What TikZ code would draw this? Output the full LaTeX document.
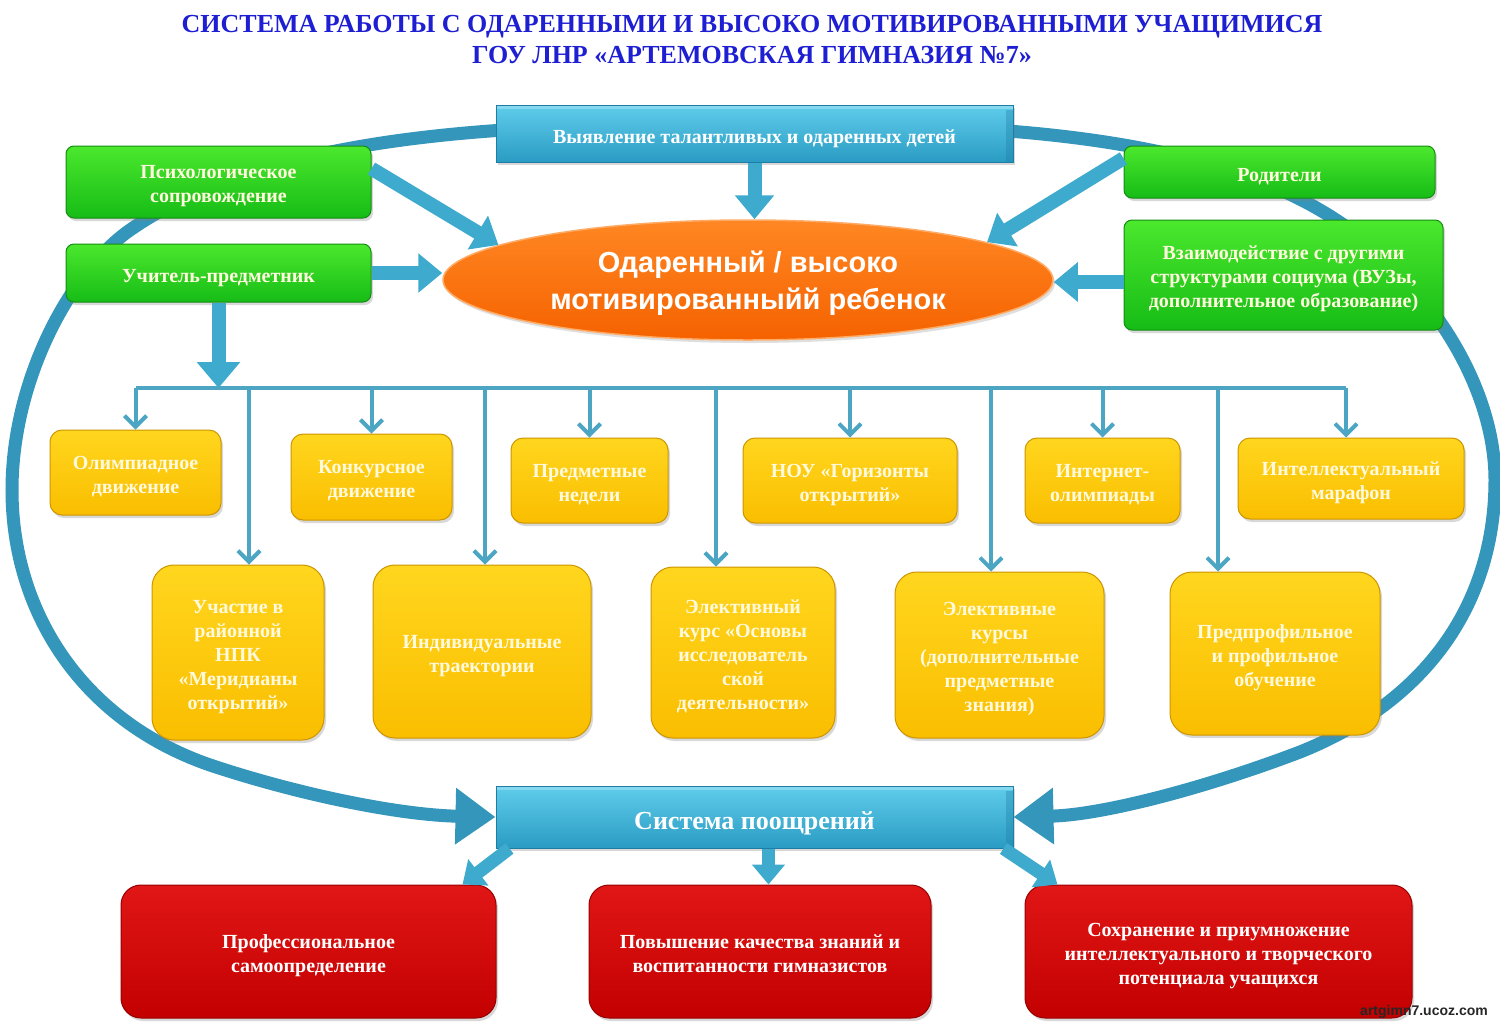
\documentclass[tikz,border=0pt]{standalone}
\usepackage{fontspec}
\setmainfont{Liberation Serif}
\newfontfamily\heavysans{Liberation Sans}
\usetikzlibrary{arrows.meta,shapes.geometric,shadows}
\pgfdeclarelayer{bg}
\pgfsetlayers{bg,main}
\newcommand\firstln[1][1.1]{\rule{0pt}{#1em}}
\definecolor{ringc}{RGB}{52,150,186}
\definecolor{fatc}{RGB}{62,170,205}
\definecolor{busc}{RGB}{75,165,195}
\definecolor{btop}{RGB}{95,205,235}
\definecolor{bbot}{RGB}{42,155,195}
\definecolor{bedge}{RGB}{30,125,165}
\definecolor{gtop}{RGB}{75,232,45}
\definecolor{gbot}{RGB}{22,188,22}
\definecolor{gedge}{RGB}{20,140,20}
\definecolor{ytop}{RGB}{255,214,30}
\definecolor{ybot}{RGB}{250,190,0}
\definecolor{yedge}{RGB}{205,150,0}
\definecolor{rtop}{RGB}{225,22,22}
\definecolor{rbot}{RGB}{195,0,0}
\definecolor{redge}{RGB}{150,0,0}
\definecolor{otop}{RGB}{255,135,35}
\definecolor{obot}{RGB}{245,98,0}
\definecolor{titleblue}{RGB}{30,30,210}
\definecolor{creamw}{RGB}{255,250,222}
\begin{document}
\begin{tikzpicture}[x=1pt,y=-1pt,
  pptstrut/.style={execute at begin node={\rule{0pt}{1.2em}},
    execute at end node={\rule[-0.216em]{0pt}{0.216em}}},
  box/.style={rectangle, align=center, inner sep=0pt, pptstrut,
    font=\bfseries\fontsize{20}{24}\selectfont, text=creamw,
    drop shadow={opacity=0.3,shadow xshift=2pt,shadow yshift=-3pt}},
  bluebox/.style={box, top color=btop, bottom color=bbot, draw=bedge, line width=1pt, text=white,
    path picture={\fill[bedge, opacity=0.35] ([xshift=-7pt,yshift=-5pt]path picture bounding box.north east)
      rectangle (path picture bounding box.south east);
      \fill[white, opacity=0.25] (path picture bounding box.north west)
      rectangle ([yshift=-4pt]path picture bounding box.north east);}},
  greenbox/.style={box, rounded corners=8pt, top color=gtop, bottom color=gbot, draw=gedge, line width=1pt},
  yelbox/.style={box, rounded corners=12pt, top color=ytop, bottom color=ybot, draw=yedge, line width=1pt},
  bigyel/.style={yelbox, rounded corners=22pt},
  redbox/.style={box, rounded corners=20pt, top color=rtop, bottom color=rbot, draw=redge, line width=1pt, text=white},
  fat/.style={draw=fatc, line width=14pt, -{Triangle[width=38pt,length=24pt]}},
  bus/.style={draw=busc, line width=4pt},
  busarrow/.style={bus, -{Straight Barb[length=11pt,width=22pt]}},
  ring/.style={draw=ringc, line width=13pt, -{Triangle[width=54pt,length=40pt]}}
]
\useasboundingbox (0,0) rectangle (1500,1029);

% title
\node[font=\bfseries\fontsize{26}{31}\selectfont, text=titleblue, align=center, pptstrut, inner sep=0pt] (title) at (752,37.5)
  {\firstln[1.0]СИСТЕМА РАБОТЫ С ОДАРЕННЫМИ И ВЫСОКО МОТИВИРОВАННЫМИ УЧАЩИМИСЯ\\ГОУ ЛНР «АРТЕМОВСКАЯ ГИМНАЗИЯ №7»};

% top level
\node[bluebox, minimum width=517pt, minimum height=57pt] (detect) at (754.5,133.5)
  {Выявление талантливых и одаренных детей};
\node[greenbox, minimum width=305pt, minimum height=72pt] (psych) at (218.5,182)
  {\firstln Психологическое\\сопровождение};
\node[greenbox, minimum width=305pt, minimum height=58pt] (teacher) at (218.5,273)
  {Учитель-предметник};
\node[greenbox, minimum width=311pt, minimum height=52pt] (parents) at (1279.5,172)
  {Родители};
\node[greenbox, minimum width=319pt, minimum height=110pt] (inter) at (1283.5,275)
  {\firstln Взаимодействие с другими\\структурами социума (ВУЗы,\\дополнительное образование)};
\node[ellipse, minimum width=610pt, minimum height=120pt, inner sep=0pt, top color=otop, bottom color=obot,
  draw=otop!70!white, line width=1.5pt, text=white, align=center, pptstrut,
  font=\heavysans\bfseries\fontsize{29}{37}\selectfont,
  drop shadow={opacity=0.25,shadow xshift=2pt,shadow yshift=-3pt}] (child) at (748,280)
  {\firstln[1.0]Одаренный / высоко\\мотивированныйй ребенок};

% top-row activities
\node[yelbox, minimum width=171pt, minimum height=85pt] (olymp) at (135.5,472.5) {\firstln Олимпиадное\\движение};
\node[yelbox, minimum width=161pt, minimum height=86pt] (konk) at (371.5,477) {\firstln Конкурсное\\движение};
\node[yelbox, minimum width=157pt, minimum height=85pt] (pred) at (589.5,480.5) {\firstln Предметные\\недели};
\node[yelbox, minimum width=214pt, minimum height=85pt] (nou) at (850,480.5) {\firstln НОУ «Горизонты\\открытий»};
\node[yelbox, minimum width=155pt, minimum height=85pt] (inet) at (1102.5,480.5) {\firstln Интернет-\\олимпиады};
\node[yelbox, minimum width=226pt, minimum height=81pt] (marafon) at (1351,478.5) {\firstln Интеллектуальный\\марафон};

% bottom-row activities
\node[bigyel, minimum width=172pt, minimum height=175pt] (npk) at (238,652.5)
  {\firstln Участие в\\районной\\НПК\\«Меридианы\\открытий»};
\node[bigyel, minimum width=218pt, minimum height=173pt] (indiv) at (482,651.5)
  {\firstln Индивидуальные\\траектории};
\node[bigyel, minimum width=184pt, minimum height=171pt] (elect1) at (743,652.5)
  {\firstln Элективный\\курс «Основы\\исследователь\\ской\\деятельности»};
\node[bigyel, minimum width=209pt, minimum height=166pt] (elect2) at (999.5,655)
  {\firstln Элективные\\курсы\\(дополнительные\\предметные\\знания)};
\node[bigyel, minimum width=210pt, minimum height=163pt] (predprof) at (1275,653.5)
  {\firstln Предпрофильное\\и профильное\\обучение};

% rewards
\node[bluebox, minimum width=517pt, minimum height=62pt, font=\bfseries\fontsize{26}{30}\selectfont] (reward) at (754.5,817)
  {Система поощрений};
\node[redbox, minimum width=375pt, minimum height=133pt] (res1) at (308.5,951.5)
  {\firstln Профессиональное\\самоопределение};
\node[redbox, minimum width=342pt, minimum height=133pt] (res2) at (760,951.5)
  {\firstln Повышение качества знаний и\\воспитанности гимназистов};
\node[redbox, minimum width=387pt, minimum height=133pt] (res3) at (1218.5,951.5)
  {\firstln Сохранение и приумножение\\интеллектуального и творческого\\потенциала учащихся};

\node[font=\heavysans\bfseries\fontsize{14}{16}\selectfont, text=black!85] (wm) at (1424,1012) {artgimn7.ucoz.com};

% ring (background)
\begin{pgfonlayer}{bg}
\fill[white] (0,0) rectangle (1500,1029);
\coordinate (ringtop) at (755,126);
\draw[ring] (ringtop) .. controls (480,120) and (260,140) .. (130,230)
  .. controls (70,272) and (12,380) .. (12,490)
  .. controls (12,610) and (80,720) .. (210,765)
  .. controls (300,795) and (400,815) .. (reward.west);
\draw[ring] (ringtop) .. controls (1010,120) and (1200,140) .. (1320,210)
  .. controls (1420,268) and (1495,380) .. (1495,480)
  .. controls (1495,600) and (1430,700) .. (1300,752)
  .. controls (1200,790) and (1100,815) .. (reward.east);
\end{pgfonlayer}

% fat arrows to child
\draw[fat] (detect.south) -- (detect.south |- child.north);
\draw[fat] (psych.5) -- (child.172);
\draw[fat] (parents.175) -- (child.9);
\draw[fat] (teacher.east) -- (teacher.east -| child.west);
\draw[fat] ([yshift=-7pt]inter.west) -- ([yshift=-7pt]inter.west -| child.east);

% teacher to bus
\coordinate (busL) at (136,388);
\coordinate (busR) at (1346,388);
\draw[fat, -{Triangle[width=42pt,length=26pt]}] (teacher.south) -- (teacher.south |- busL);
\draw[bus] (busL) -- (busR);
\draw[busarrow] (olymp.north |- busL) -- (olymp.north);
\draw[busarrow] (konk.north |- busL) -- (konk.north);
\draw[busarrow] (pred.north |- busL) -- (pred.north);
\draw[busarrow] (nou.north |- busL) -- (nou.north);
\draw[busarrow] (inet.north |- busL) -- (inet.north);
\draw[busarrow] (busR) -- (busR |- marafon.north);
\coordinate (t1) at (249,388);
\coordinate (t2) at (485,388);
\coordinate (t3) at (716,388);
\coordinate (t4) at (991,388);
\coordinate (t5) at (1218,388);
\draw[busarrow] (t1) -- (t1 |- npk.north);
\draw[busarrow] (t2) -- (t2 |- indiv.north);
\draw[busarrow] (t3) -- (t3 |- elect1.north);
\draw[busarrow] (t4) -- (t4 |- elect2.north);
\draw[busarrow] (t5) -- (t5 |- predprof.north);

% reward arrows
\draw[fat, line width=13pt, -{Triangle[width=32pt,length=20pt]}] ([xshift=14pt]reward.south west) -- ([xshift=-34pt]res1.north east);
\draw[fat, line width=13pt, -{Triangle[width=32pt,length=20pt]}] ([xshift=14pt]reward.south) -- ([xshift=14pt]reward.south |- res2.north);
\draw[fat, line width=13pt, -{Triangle[width=32pt,length=20pt]}] ([xshift=-10pt]reward.south east) -- ([xshift=33pt]res3.north west);
\end{tikzpicture}
\end{document}
